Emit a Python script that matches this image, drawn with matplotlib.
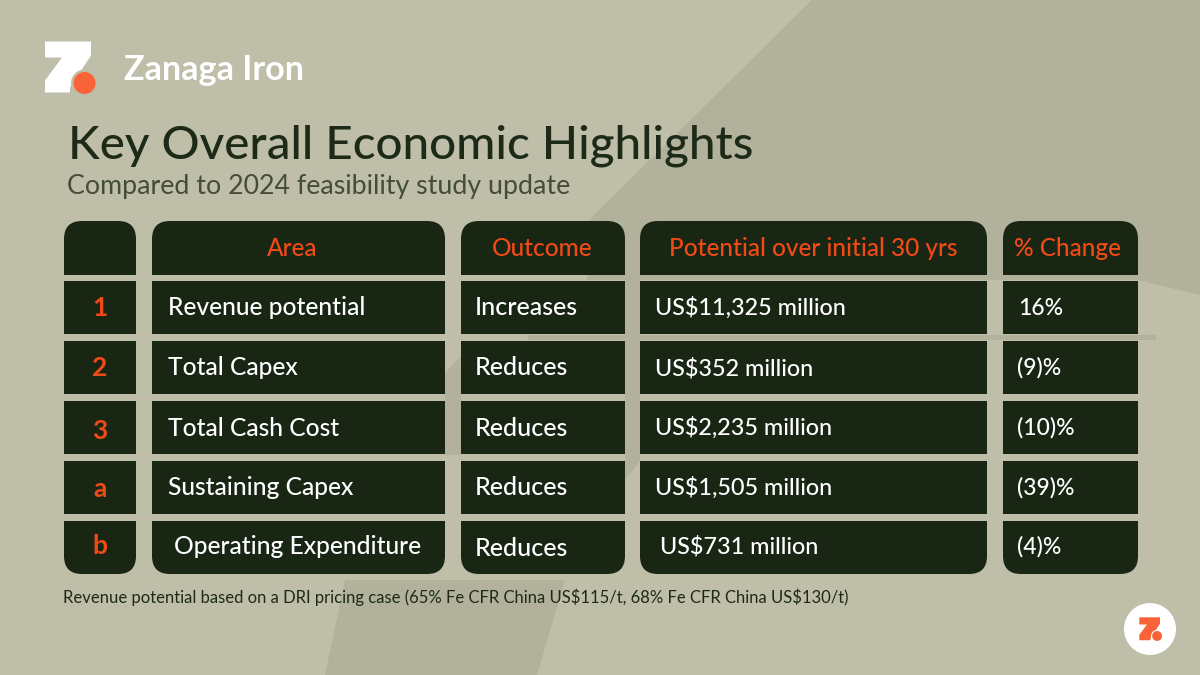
#!/usr/bin/python
import matplotlib
matplotlib.use("Agg")
import matplotlib.pyplot as plt
from matplotlib.patches import Circle, Polygon, PathPatch, Rectangle
from matplotlib.path import Path

plt.rcParams["font.family"] = ["Lato", "DejaVu Sans"]
plt.rcParams["text.parse_math"] = False

############### Table content ###############
brand = "Zanaga Iron"
title = "Key Overall Economic Highlights"
subtitle = "Compared to 2024 feasibility study update"
footnote = "Revenue potential based on a DRI pricing case (65% Fe CFR China US$115/t, 68% Fe CFR China US$130/t)"

headers = ["", "Area", "Outcome", "Potential over initial 30 yrs", "% Change"]
row_ids = ["1", "2", "3", "a", "b"]
areas = ["Revenue potential", "Total Capex", "Total Cash Cost", "Sustaining Capex", "Operating Expenditure"]
outcomes = ["Increases", "Reduces", "Reduces", "Reduces", "Reduces"]
potentials = ["US$11,325 million", "US$352 million", "US$2,235 million", "US$1,505 million", "US$731 million"]
changes = ["16%", "(9)%", "(10)%", "(39)%", "(4)%"]

############### Layout (pixels) ###############
col_edges = [(64, 136), (152, 445), (461, 625), (640, 987), (1003, 1138)]
row_edges = [(221, 275), (281, 334), (341, 394), (401, 454), (461, 514), (521, 574)]
header_x = [100, 292, 542, 813, 1067]
area_x = [168, 168, 168, 168, 174]
outcome_x = [475, 475, 475, 475, 475]
potential_x = [655, 655, 655, 655, 660]
change_x = [1018, 1017, 1017, 1017, 1017]
id_y = [308, 368, 431, 489, 546]
area_base = [315, 375, 436, 495, 554]
outcome_base = [315, 375, 436, 495, 556]
potential_base = [315, 375, 435, 495, 554]
change_base = [315, 375, 435, 495, 554]

BG = "#BFBEA9"
SHADE = "#B1B19C"
DARK = "#1A2614"
ORANGE = "#F04A16"
DOT = "#FA6238"
WHITE = "#FFFFFF"


def cell_path(x0, x1, y0, y1, top=False, bottom=False, r=18):
    '''Rectangle in pixel coordinates, with rounded top or bottom corners.'''
    rt = r if top else 0
    rb = r if bottom else 0
    verts = [(x0 + rt, y0), (x1 - rt, y0), (x1, y0), (x1, y0 + rt),
             (x1, y1 - rb), (x1, y1), (x1 - rb, y1),
             (x0 + rb, y1), (x0, y1), (x0, y1 - rb),
             (x0, y0 + rt), (x0, y0), (x0 + rt, y0), (x0 + rt, y0)]
    codes = [Path.MOVETO, Path.LINETO, Path.CURVE3, Path.CURVE3,
             Path.LINETO, Path.CURVE3, Path.CURVE3,
             Path.LINETO, Path.CURVE3, Path.CURVE3,
             Path.LINETO, Path.CURVE3, Path.CURVE3, Path.CLOSEPOLY]
    return Path(verts, codes)


def draw_logo(ax, x, y, scale, z_color, dot_color, gap_color):
    '''Z mark with its dot; x, y is the top left corner of the Z.'''
    z_shape = [(0, 0), (46, 0), (46, 14), (25, 46), (25, 51), (0, 51), (0, 39), (17, 16), (0, 16)]
    ax.add_patch(Polygon([(x + px * scale, y + py * scale) for px, py in z_shape],
                         closed=True, fc=z_color, ec="none", zorder=5))
    ax.add_patch(Circle((x + 39.5 * scale, y + 41.5 * scale), 13.5 * scale, fc=gap_color, ec="none", zorder=6))
    ax.add_patch(Circle((x + 39.5 * scale, y + 41.5 * scale), 11 * scale, fc=dot_color, ec="none", zorder=7))


def main():
    fig = plt.figure(figsize=(12, 6.75), dpi=100, facecolor=BG)
    ax = fig.add_axes([0, 0, 1, 1])
    ax.set_xlim(0, 1200)
    ax.set_ylim(675, 0)
    ax.axis("off")

    # Background shapes behind the table
    ax.add_patch(Polygon([(812, 0), (1200, 0), (1200, 295), (1138, 280), (640, 280), (640, 461),
                          (625, 480), (625, 280), (587, 280), (587, 222)],
                         closed=True, fc=SHADE, ec="none", zorder=1))
    ax.add_patch(Rectangle((528, 335), 628, 5, fc=SHADE, ec="none", zorder=1))
    ax.add_patch(Polygon([(445, 373), (461, 356), (461, 455), (445, 455)],
                         closed=True, fc=SHADE, ec="none", zorder=1))
    ax.add_patch(Polygon([(345, 580), (565, 580), (537, 675), (325, 675)],
                         closed=True, fc=SHADE, ec="none", zorder=1))

    # Logo, heading
    draw_logo(ax, 45, 41.5, 1.0, WHITE, DOT, BG)
    ax.text(124, 80, brand, color=WHITE, fontsize=24.6, fontweight="bold", va="baseline", zorder=5)
    ax.text(68, 158.5, title, color="#1D2A18", fontsize=34.2, fontweight=500, va="baseline", zorder=5)
    ax.text(67, 194, subtitle, color="#444C3A", fontsize=19.3, va="baseline", zorder=5)

    # Table cells
    for c, (x0, x1) in enumerate(col_edges):
        for r, (y0, y1) in enumerate(row_edges):
            path = cell_path(x0, x1, y0, y1, top=r == 0, bottom=r == len(row_edges) - 1)
            ax.add_patch(PathPatch(path, fc=DARK, ec="none", zorder=3))

    # Header text
    for x, label in zip(header_x, headers):
        ax.text(x, 249, label, color=ORANGE, fontsize=17.6, fontweight=500, ha="center", va="center", zorder=5)

    # Body text
    for i in range(len(row_ids)):
        ax.text(100, id_y[i], row_ids[i], color=ORANGE, fontsize=19, fontweight="bold",
                ha="center", va="center", zorder=5)
        ax.text(area_x[i], area_base[i], areas[i], color=WHITE, fontsize=17.7, fontweight=500, va="baseline", zorder=5)
        ax.text(outcome_x[i], outcome_base[i], outcomes[i], color=WHITE, fontsize=18, fontweight=500, va="baseline", zorder=5)
        ax.text(potential_x[i], potential_base[i], potentials[i], color=WHITE, fontsize=16.8, fontweight=500, va="baseline", zorder=5)
        ax.text(change_x[i], change_base[i], changes[i], color=WHITE, fontsize=16.5, fontweight=500, va="baseline", zorder=5)

    # Footnote and corner badge
    ax.text(63, 603, footnote, color="#1D2A18", fontsize=12, va="baseline", zorder=5)
    ax.add_patch(Circle((1150, 629), 26, fc=WHITE, ec="none", zorder=4))
    draw_logo(ax, 1139.3, 617.3, 0.45, DOT, DOT, WHITE)

    fig.savefig("out.png", dpi=100, facecolor=BG)


if __name__ == "__main__":
    main()
